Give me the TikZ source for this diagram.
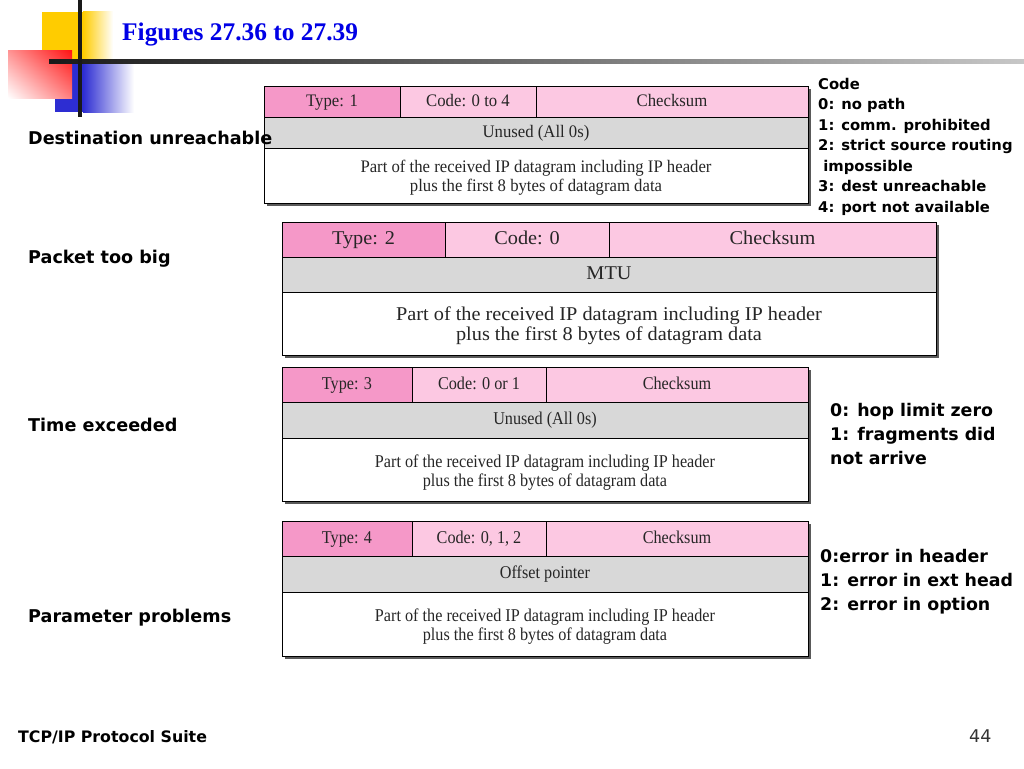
\documentclass[tikz,border=0pt]{standalone}
\usepackage{fontspec}
\usetikzlibrary{shadings}
\setmainfont{Liberation Serif}
\newfontfamily\lab{DejaVu Sans}
\newfontfamily\serifA{Liberation Serif}[FakeStretch=0.95]
\newfontfamily\serifB{Liberation Serif}[FakeStretch=1.04]
\newfontfamily\serifC{Liberation Serif}[FakeStretch=0.90]
\definecolor{typepink}{RGB}{245,152,200}
\definecolor{lightpink}{RGB}{252,200,226}
\definecolor{rowgray}{RGB}{216,216,216}
\definecolor{titleblue}{RGB}{0,0,230}
\definecolor{logoyellow}{RGB}{255,204,0}
\definecolor{logored}{RGB}{255,20,20}
\definecolor{logoblue}{RGB}{45,45,210}
\definecolor{shadowc}{RGB}{90,90,90}
\tikzset{
  cell/.style={draw=black, line width=0.8pt, anchor=north west, inner sep=0pt, outer sep=0pt, align=center, text=black!85},
  one/.style={text height=0.95em, text depth=0.02em},
  tcell/.style={cell, one, fill=typepink},
  pcell/.style={cell, one, fill=lightpink},
  gcell/.style={cell, one, fill=rowgray},
  wcell/.style={cell, fill=white},
  fa/.style={font=\serifA\fontsize{17.6}{19}\selectfont},
  fb/.style={font=\serifB\fontsize{19.5}{20}\selectfont},
  fc/.style={font=\serifC\fontsize{18}{19}\selectfont},
  shadowbox/.style={fill=shadowc},
  lbl/.style={font=\lab\bfseries\fontsize{17.6}{20}\selectfont, anchor=west, inner sep=0pt},
  note/.style={font=\lab\bfseries\fontsize{14.8}{20.5}\selectfont, anchor=north west, inner sep=0pt, align=left},
  noteb/.style={font=\lab\bfseries\fontsize{17.4}{24}\selectfont, anchor=north west, inner sep=0pt, align=left},
}
\newcommand\partA{\rule{0pt}{0.97em}Part of the received IP datagram including IP header\\plus the first 8 bytes of datagram data}
\newcommand\partB{\rule{0pt}{0.9em}Part of the received IP datagram including IP header\\plus the first 8 bytes of datagram data}
\newcommand\partC{\rule{0pt}{1.02em}Part of the received IP datagram including IP header\\plus the first 8 bytes of datagram data}
\begin{document}
\begin{tikzpicture}[x=1pt,y=-1pt]
\useasboundingbox (0,0) rectangle (1024,768);
\fill[white] (0,0) rectangle (1024,768);
% logo
\fill[logoyellow] (42,12) rectangle (83,62);
\shade[left color=logoyellow, right color=white] (83,12) rectangle (113,62);
\fill[logoblue] (55,62) rectangle (83,112);
\shade[left color=logoblue, right color=white] (83,62) rectangle (134,112);
\shade[upper left=logored!45, upper right=logored, lower left=white, lower right=logored!55] (8,51) rectangle (72,98);
\shade[left color=black!90, right color=black!22] (49,59) rectangle (1024,63);
\draw[line width=3.5pt, black!90] (80,0) -- (80,117);
\node[anchor=base west, inner sep=0pt, text=titleblue, font=\bfseries\fontsize{25.4}{28}\selectfont] (title) at (122,41) {Figures 27.36 to 27.39};

% box 1
\fill[shadowbox] (267,89) rectangle (811,206);
\node[tcell, fa, minimum width=136, minimum height=31] (t1) at (264,86) {Type: 1};
\node[pcell, fa, minimum width=136, minimum height=31] (c1) at (400,86) {Code: 0 to 4};
\node[pcell, fa, minimum width=272, minimum height=31] (k1) at (536,86) {Checksum};
\node[gcell, fa, minimum width=544, minimum height=31] (u1) at (264,117) {Unused (All 0s)};
\node[wcell, fa, minimum width=544, minimum height=55] (p1) at (264,148) {\partA};

% box 2
\fill[shadowbox] (285,225) rectangle (939,358);
\node[tcell, fb, minimum width=163, minimum height=35] (t2) at (282,222) {Type: 2};
\node[pcell, fb, minimum width=164, minimum height=35] (c2) at (445,222) {Code: 0};
\node[pcell, fb, minimum width=327, minimum height=35] (k2) at (609,222) {Checksum};
\node[gcell, fb, minimum width=654, minimum height=35] (u2) at (282,257) {MTU};
\node[wcell, fb, minimum width=654, minimum height=63] (p2) at (282,292) {\partB};

% box 3
\fill[shadowbox] (285,370) rectangle (811,504);
\node[tcell, fc, minimum width=130, minimum height=35] (t3) at (282,367) {Type: 3};
\node[pcell, fc, minimum width=134, minimum height=35] (c3) at (412,367) {Code: 0 or 1};
\node[pcell, fc, minimum width=262, minimum height=35] (k3) at (546,367) {Checksum};
\node[gcell, fc, minimum width=526, minimum height=36] (u3) at (282,402) {Unused (All 0s)};
\node[wcell, fc, minimum width=526, minimum height=63] (p3) at (282,438) {\partC};

% box 4
\fill[shadowbox] (285,524) rectangle (811,659);
\node[tcell, fc, minimum width=130, minimum height=35] (t4) at (282,521) {Type: 4};
\node[pcell, fc, minimum width=134, minimum height=35] (c4) at (412,521) {Code: 0, 1, 2};
\node[pcell, fc, minimum width=262, minimum height=35] (k4) at (546,521) {Checksum};
\node[gcell, fc, minimum width=526, minimum height=36] (u4) at (282,556) {Offset pointer};
\node[wcell, fc, minimum width=526, minimum height=64] (p4) at (282,592) {\partC};

% left labels
\node[lbl] (l1) at (28,138) {Destination unreachable};
\node[lbl] (l2) at (28,259) {Packet too big};
\node[lbl] (l3) at (28,425) {Time exceeded};
\node[lbl] (l4) at (28,618) {Parameter problems};

% right notes
\node[note] (n1) at (818,78) {Code\\0: no path\\1: comm. prohibited\\2: strict source routing\\\ impossible\\3: dest unreachable\\4: port not available};
\node[noteb] (n3) at (830,403.5) {0: hop limit zero\\1: fragments did\\not arrive};
\node[noteb] (n4) at (820,549.5) {0:error in header\\1: error in ext head\\2: error in option};

% footer
\node[anchor=base west, inner sep=0pt, font=\lab\bfseries\fontsize{15.8}{18}\selectfont] (foot) at (18,742) {TCP/IP Protocol Suite};
\node[anchor=base west, inner sep=0pt, font=\lab\fontsize{17.5}{20}\selectfont, text=black!80] (page) at (969,742) {44};
\end{tikzpicture}
\end{document}
